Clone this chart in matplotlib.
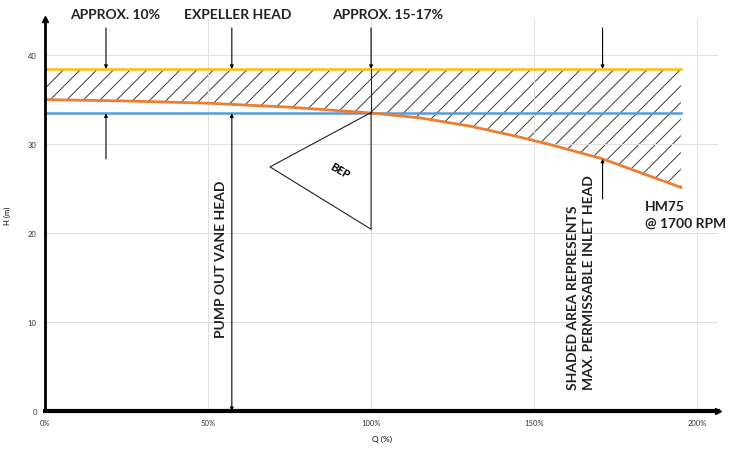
import numpy as np
import matplotlib.pyplot as plt

plt.rcParams['font.family'] = ['Lato', 'DejaVu Sans']
plt.rcParams['hatch.linewidth'] = 0.7

# data
q_pct = [0, 25, 50, 75, 100, 115, 130, 145, 156, 171, 195]                 # flow, % of BEP
head_hm75 = [34.95, 34.8, 34.55, 34.1, 33.45, 32.9, 32.0, 30.8, 29.8, 28.3, 25.1]  # H (m)
expeller_head = 38.4    # max permissible inlet head line
vane_head = 33.4        # pump out vane head line
q_bep = 100
bep_head = 33.45
bep_triangle_q = [100, 69, 100]
bep_triangle_h = [33.5, 27.4, 20.4]

x_ticks = [0, 50, 100, 150, 200]
x_labels = ['0%', '50%', '100%', '150%', '200%']
y_ticks = [0, 10, 20, 30, 40]

fig = plt.figure(figsize=(7.3, 4.56), dpi=100)
ax = fig.add_axes([45/730, 44/456, 673/730, 392/456])
ax.set_xlim(0, 206.4)
ax.set_ylim(0, 44)

# grid
ax.set_xticks(x_ticks)
ax.set_xticklabels(x_labels)
ax.set_yticks(y_ticks)
ax.grid(True, color='#dedede', lw=0.7)
ax.tick_params(length=0, labelsize=5.5, labelcolor='#333333', pad=6)
for s in ['top', 'right']:
    ax.spines[s].set_visible(False)
ax.spines['left'].set_linewidth(2)
ax.spines['bottom'].set_linewidth(3)
ax.plot(1, 0, '>k', transform=ax.transAxes, clip_on=False, ms=5)
ax.plot(0, 1, '^k', transform=ax.transAxes, clip_on=False, ms=4)

q_end = q_pct[-1]
q = np.array(q_pct)
h = np.array(head_hm75)

# shaded (hatched) area between expeller head and curve
ax.fill_between(q, h, expeller_head, facecolor='none', edgecolor='#3a3a3a',
                hatch='//', lw=0)

ax.plot([0, q_end], [expeller_head, expeller_head], color='#FFC000', lw=1.8)
ax.plot([0, q_end], [vane_head, vane_head], color='#5B9BD5', lw=1.8)
ax.plot(q, h, color='#ED7D31', lw=2)

# BEP triangle
ax.plot(bep_triangle_q + [bep_triangle_q[0]], bep_triangle_h + [bep_triangle_h[0]],
        color='#222222', lw=0.8)
ax.plot([q_bep, q_bep], [expeller_head, bep_head], color='#222222', lw=0.8)
ax.text(90.5, 27.0, 'BEP', rotation=-30, ha='center', va='center',
        fontsize=8, fontweight='bold')

arr = dict(arrowstyle='-|>', color='black', lw=0.8, mutation_scale=5,
           shrinkA=0, shrinkB=0)
top_y = 44.6
for qx, label in [(21.5, 'APPROX. 10%'), (59.0, 'EXPELLER HEAD'), (105.0, 'APPROX. 15-17%')]:
    ax.text(qx, top_y, label, ha='center', va='center', fontsize=10,
            fontweight='bold', color='#222222', clip_on=False)
for qx in [18.7, 57.3, 100, 171.0]:
    ax.annotate('', xy=(qx, expeller_head), xytext=(qx, 43.0), arrowprops=arr,
                annotation_clip=False)

# arrows from below
ax.annotate('', xy=(18.7, vane_head), xytext=(18.7, 28.3), arrowprops=arr)
ax.annotate('', xy=(171.0, 28.3), xytext=(171.0, 23.8), arrowprops=arr)

# pump out vane head
ax.annotate('', xy=(57.3, vane_head), xytext=(57.3, 0),
            arrowprops=dict(arrowstyle='<|-|>', color='black', lw=0.8,
                            mutation_scale=5, shrinkA=0, shrinkB=0))
ax.text(53.9, 17.1, 'PUMP OUT VANE HEAD', rotation=90, ha='center', va='center',
        fontsize=10, fontweight='bold', color='#222222')

ax.text(164.4, 2.5, 'SHADED AREA REPRESENTS\nMAX. PERMISSABLE INLET HEAD',
        rotation=90, ha='center', va='bottom', multialignment='left',
        fontsize=10, fontweight='bold', color='#222222', linespacing=1.45)

ax.text(184, 22.1, 'HM75\n@ 1700 RPM', ha='left', va='center', fontsize=10,
        fontweight='bold', color='#222222', linespacing=1.45)

ax.set_xlabel('Q (%)', fontsize=6, labelpad=6)
ax.set_ylabel('H (m)', fontsize=5.5, labelpad=12)

fig.savefig('out.png', dpi=100)
